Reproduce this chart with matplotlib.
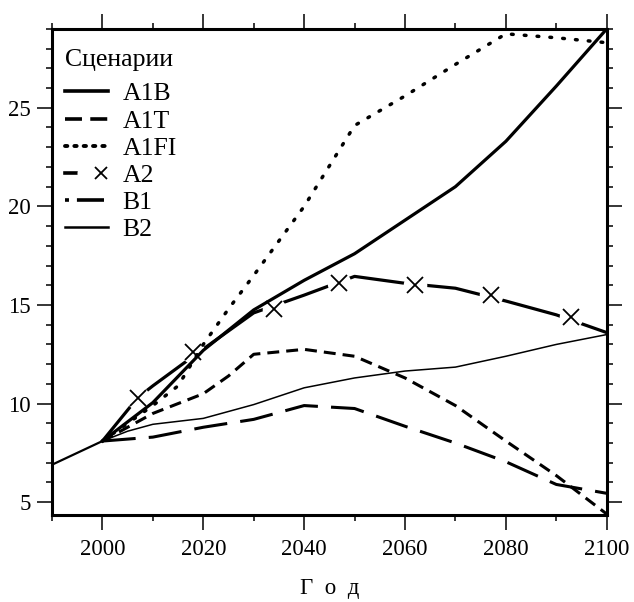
import matplotlib
matplotlib.use('Agg')
import matplotlib.pyplot as plt
from matplotlib.lines import Line2D
from matplotlib.legend_handler import HandlerTuple
from matplotlib.ticker import MultipleLocator

plt.rcParams['font.family'] = ['Liberation Serif', 'DejaVu Serif']
plt.rcParams['font.size'] = 16

# common history 1990-2000
hist_years = [1990, 2000]
hist_vals = [6.9, 8.1]

years = [2000, 2010, 2020, 2030, 2040, 2050, 2060, 2070, 2080, 2090, 2100]
a1b = [8.1, 10.05, 12.7, 14.75, 16.25, 17.6, 19.3, 21.0, 23.3, 26.1, 29.0]
a1fi_years = [2000, 2010, 2015, 2020, 2025, 2030, 2040, 2050, 2060, 2070, 2080, 2090, 2100]
a1fi = [8.1, 9.9, 10.9, 13.0, 14.8, 16.5, 20.0, 24.1, 25.6, 27.2, 28.75, 28.55, 28.3]
a1t_years = [2000, 2010, 2020, 2025, 2030, 2040, 2050, 2060, 2070, 2080, 2090, 2100]
a1t = [8.1, 9.5, 10.5, 11.4, 12.5, 12.75, 12.4, 11.3, 9.9, 8.1, 6.35, 4.4]
a2_years = [2000, 2007, 2010, 2018, 2030, 2040, 2050, 2060, 2070, 2080, 2090, 2100]
a2 = [8.1, 10.3, 10.9, 12.4, 14.6, 15.5, 16.45, 16.1, 15.85, 15.2, 14.5, 13.6]
a2_mark_years = [2007, 2018, 2034, 2047, 2062, 2077, 2093]
a2_mark_vals = [10.3, 12.6, 14.8, 16.1, 16.0, 15.5, 14.4]
b1 = [8.1, 8.3, 8.8, 9.2, 9.9, 9.75, 8.85, 8.0, 7.05, 5.9, 5.45]
b2_years = [2000, 2005, 2010, 2020, 2030, 2040, 2050, 2060, 2070, 2080, 2090, 2100]
b2 = [8.1, 8.6, 8.95, 9.25, 9.95, 10.8, 11.3, 11.65, 11.85, 12.4, 13.0, 13.5]

labels = ['A1B', 'A1T', 'A1FI', 'A2', 'B1', 'B2']

fig = plt.figure(figsize=(6.34, 6.02), dpi=100)
ax = fig.add_axes([0.082, 0.1445, 0.875, 0.8075])

ax.plot(hist_years, hist_vals, color='black', lw=1.6, zorder=3)

# A2 drawn first, then white halos so the line breaks around the crosses
ax.plot(a2_years, a2, color='black', lw=2.3, solid_capstyle='butt', zorder=2)
ax.plot(a2_mark_years, a2_mark_vals, ls='none', marker='o', ms=17,
        mfc='white', mec='none', zorder=2.1)

ax.plot(years, a1b, color='black', lw=2.3, zorder=2.5)
ax.plot(a1t_years, a1t, color='black', lw=2.2, ls=(0, (3.9, 2.3)), zorder=2.5)
ax.plot(a1fi_years, a1fi, color='black', lw=2.5, ls=(0, (0.5, 3.2)),
        dash_capstyle='round', zorder=2.5)
ax.plot(years, b1, color='black', lw=2.2, ls=(0, (10.9, 4.3)), zorder=2.5)
ax.plot(b2_years, b2, color='black', lw=1.1, zorder=2.5)

ax.plot(a2_mark_years, a2_mark_vals, ls='none', marker='x', ms=12,
        mew=1.3, color='black', zorder=3)

ax.set_xlim(1990, 2100)
ax.set_ylim(4.35, 29.0)
ax.xaxis.set_major_locator(MultipleLocator(20))
ax.xaxis.set_minor_locator(MultipleLocator(10))
ax.yaxis.set_major_locator(MultipleLocator(5))
ax.yaxis.set_minor_locator(MultipleLocator(1))
ax.set_xticks([2000, 2020, 2040, 2060, 2080, 2100])

ax.tick_params(which='both', direction='out', top=True, right=True,
               labeltop=False, labelright=False, width=1.1, color='black')
ax.tick_params(which='major', length=11, pad=4, labelsize=16.5)
ax.tick_params(axis='x', which='major', pad=6)
ax.tick_params(which='minor', length=4.5)
for s in ax.spines.values():
    s.set_linewidth(2.2)

ax.set_xlabel('Г  о  д', fontsize=16.5, labelpad=13)

h_a1b = Line2D([], [], color='black', lw=2.6)
h_a1t = Line2D([], [], color='black', lw=2.6, ls=(0, (4.7, 2.3)))
h_a1fi = Line2D([], [], color='black', lw=2.8, ls=(0, (0.6, 1.8)), dash_capstyle='round')
h_a2 = (Line2D([], [], color='black', lw=2.6),
        Line2D([], [], ls='none', marker='o', ms=13, mfc='white', mec='none'),
        Line2D([], [], ls='none', marker='x', ms=9, mew=1.3, color='black'))
h_b1 = Line2D([], [], color='black', lw=2.6, ls=(0, (1.1, 2.2, 7.5, 3)))
h_b2 = Line2D([], [], color='black', lw=1.8)

leg = ax.legend([h_a1b, h_a1t, h_a1fi, h_a2, h_b1, h_b2], labels,
                title='Сценарии', loc='upper left', bbox_to_anchor=(0.023, 0.958),
                frameon=False, fontsize=18.5, title_fontsize=18.5, alignment='left',
                handlelength=1.67, handletextpad=0.58, labelspacing=0.16,
                borderpad=0, borderaxespad=0,
                handler_map={tuple: HandlerTuple(ndivide=None, pad=0)})
leg._legend_box.sep = 8

fig.savefig('out.png', dpi=100)
